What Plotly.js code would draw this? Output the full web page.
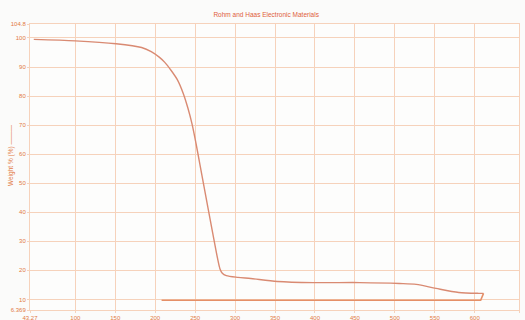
<!DOCTYPE html>
<html>
<head>
<meta charset="utf-8">
<script src="https://cdn.plot.ly/plotly-3.0.1.min.js"></script>
<style>html,body{margin:0;padding:0;background:#fbfbfa;}#chart{width:525px;height:320px;}</style>
</head>
<body>
<div id="chart"></div>
<script>
// Heating run: temperature (°C) and weight (%)
const heatTemp   = [48, 100, 151, 183, 195, 205, 212, 220, 228, 235, 241, 246, 251, 256, 261, 266, 272, 278, 281, 284, 289, 303.5, 319.6, 353, 397.8, 456, 505.7, 526.8, 551.6, 580, 605, 611];
const heatWeight = [99.5, 99.0, 98.0, 96.7, 95.3, 93.4, 91.6, 88.8, 85.5, 81.0, 75.8, 70.5, 63.8, 56.4, 49.0, 41.6, 32.8, 24.2, 20.6, 19.0, 18.2, 17.6, 17.2, 16.2, 15.8, 15.8, 15.5, 15.2, 13.8, 12.4, 12.1, 12.1];
// Return segment
const coolTemp   = [611, 607.4, 208];
const coolWeight = [12.1, 9.7, 9.7];

const xTickVals = [43.27, 100, 150, 200, 250, 300, 350, 400, 450, 500, 550, 600, 655.4];
const xTickText = ["43.27", "100", "150", "200", "250", "300", "350", "400", "450", "500", "550", "600", "655.4"];
const yTickVals = [6.369, 10, 20, 30, 40, 50, 60, 70, 80, 90, 100, 104.8];
const yTickText = ["6.369", "10", "20", "30", "40", "50", "60", "70", "80", "90", "100", "104.8"];

const chartTitle = "Rohm and Haas Electronic Materials";
const yTitle = "Weight % (%) ———";

const gridColor = "#f6d2bb";
const textColor = "#e27a44";
const lineColor = "#d98a72";

const heating = {
  x: heatTemp, y: heatWeight, type: "scatter", mode: "lines",
  line: {color: lineColor, width: 1.4, shape: "spline", smoothing: 0.8},
  hoverinfo: "none"
};
const cooling = {
  x: coolTemp, y: coolWeight, type: "scatter", mode: "lines",
  line: {color: "#e59068", width: 1.6, shape: "linear"},
  hoverinfo: "none"
};

const layout = {
  width: 525, height: 320,
  margin: {l: 30, r: 6, t: 24, b: 10},
  paper_bgcolor: "#fbfbfa", plot_bgcolor: "#fdfdfc",
  showlegend: false,
  font: {family: "Liberation Sans, Arial, sans-serif", size: 6, color: textColor},
  title: {text: chartTitle, x: 0.507, xanchor: "center", y: 0.955, yanchor: "middle", yref: "container",
          font: {size: 6.5, color: "#e0603a", family: "Liberation Sans, Arial, sans-serif"}},
  xaxis: {range: [43.27, 655.4], tickmode: "array", tickvals: xTickVals, ticktext: xTickText,
          showgrid: true, gridcolor: gridColor, gridwidth: 1, zeroline: false,
          showline: true, linecolor: gridColor, mirror: true,
          ticks: "outside", ticklen: 2, tickcolor: gridColor, tickfont: {size: 6, color: textColor}},
  yaxis: {range: [6.369, 104.8], tickmode: "array", tickvals: yTickVals, ticktext: yTickText,
          showgrid: true, gridcolor: gridColor, gridwidth: 1, zeroline: false,
          showline: true, linecolor: gridColor, mirror: true,
          ticks: "outside", ticklen: 2, tickcolor: gridColor, tickfont: {size: 6, color: textColor}},
  annotations: [{
    text: yTitle, textangle: -90, xref: "paper", yref: "paper",
    x: -0.04, xanchor: "center", y: 0.54, yanchor: "middle", showarrow: false,
    font: {size: 6.5, color: textColor}
  }]
};

Plotly.newPlot("chart", [heating, cooling], layout, {staticPlot: true, displayModeBar: false});
</script>
</body>
</html>
